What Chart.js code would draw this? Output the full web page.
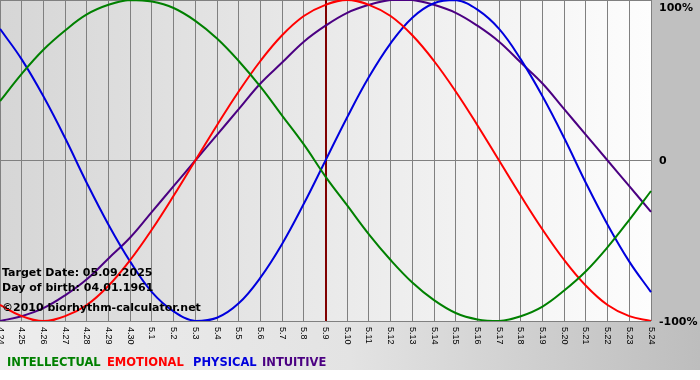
<!DOCTYPE html>
<html>
<head>
<meta charset="utf-8">
<script src="https://cdn.jsdelivr.net/npm/chart.js@4.4.1/dist/chart.umd.min.js"></script>
<style>
  body { margin: 0; background: #fff; }
  canvas { display: block; }
</style>
</head>
<body>
<canvas id="bioChart" width="700" height="380"></canvas>
<script>
const days = ['4.24', '4.25', '4.26', '4.27', '4.28', '4.29', '4.30',
  '5.1', '5.2', '5.3', '5.4', '5.5', '5.6', '5.7', '5.8', '5.9', '5.10', '5.11', '5.12',
  '5.13', '5.14', '5.15', '5.16', '5.17', '5.18', '5.19', '5.20', '5.21', '5.22', '5.23', '5.24'];

// values in percent at each day
const intellectual = [37, 54, 69, 81, 91, 97, 100, 99, 95, 87, 76, 62, 46, 28, 10, -10,
  -28, -46, -62, -76, -87, -95, -99, -100, -97, -91, -81, -69, -54, -37, -19];
const emotional = [-90, -97, -100, -97, -90, -78, -62, -43, -22, 0, 22, 43, 62, 78, 90, 97,
  100, 97, 90, 78, 62, 43, 22, 0, -22, -43, -62, -78, -90, -97, -100];
const physical = [82, 63, 40, 14, -14, -40, -63, -82, -94, -100, -98, -89, -73, -52, -27, 0,
  27, 52, 73, 89, 98, 100, 94, 82, 63, 40, 14, -14, -40, -63, -82];
const intuitive = [-100, -97, -92, -84, -74, -61, -48, -32, -16, 0, 16, 32, 48, 61, 74, 84,
  92, 97, 100, 100, 97, 92, 84, 74, 61, 48, 32, 16, 0, -16, -32];

const yTicks = [100, 0, -100];
const targetDay = '5.9';
const infoLines = ['Target Date: 05.09.2025', 'Day of birth: 04.01.1961', '\u00a92010 biorhythm-calculator.net'];

const boldFont = 'bold 11px "DejaVu Sans"';

const backdrop = {
  id: 'backdrop',
  beforeDraw(chart) {
    const { ctx, chartArea: a, width } = chart;
    ctx.save();
    let g = ctx.createLinearGradient(0, 0, width, 0);
    g.addColorStop(0, '#ededed');
    g.addColorStop(0.5, '#e3e3e3');
    g.addColorStop(1, '#bdbdbd');
    ctx.fillStyle = g;
    ctx.fillRect(0, 0, width, 370);
    ctx.fillStyle = '#c0c0c0';
    ctx.fillRect(a.right, 0, width - a.right, a.bottom);
    g = ctx.createLinearGradient(a.left, 0, a.right, 0);
    g.addColorStop(0, '#d6d6d6');
    g.addColorStop(1, '#fdfdfd');
    ctx.fillStyle = g;
    ctx.fillRect(a.left, a.top, a.right - a.left, a.bottom - a.top);
    ctx.restore();
  },
  beforeDatasetsDraw(chart) {
    const { ctx, chartArea: a, scales } = chart;
    const x = Math.round(scales.x.getPixelForValue(days.indexOf(targetDay)));
    ctx.save();
    ctx.strokeStyle = '#800000';
    ctx.lineWidth = 2;
    ctx.beginPath();
    ctx.moveTo(x, a.top);
    ctx.lineTo(x, a.bottom);
    ctx.stroke();
    ctx.restore();
  }
};

const texts = {
  id: 'texts',
  afterDraw(chart) {
    const { ctx, chartArea: a, scales } = chart;
    ctx.save();
    // day labels, turned to read downwards
    ctx.fillStyle = '#000';
    ctx.font = '9px "Liberation Sans"';
    ctx.textAlign = 'left';
    ctx.textBaseline = 'middle';
    days.forEach((d, i) => {
      const x = scales.x.getPixelForValue(i);
      ctx.save();
      ctx.translate(x, a.bottom + 6);
      ctx.rotate(Math.PI / 2);
      ctx.fillText(d, 0, 0);
      ctx.restore();
    });
    // percent labels on the right
    ctx.font = boldFont;
    yTicks.forEach(v => {
      const y = Math.max(scales.y.getPixelForValue(v), 7);
      ctx.fillText(v + (v === 0 ? '' : '%'), a.right + 8, y + 1);
    });
    // info block
    ctx.textBaseline = 'alphabetic';
    [276, 291, 311].forEach((y, i) => ctx.fillText(infoLines[i], 2, y));
    // legend
    ctx.font = 'bold 11.5px "DejaVu Sans"';
    const legendX = [7, 107, 193, 262];
    chart.data.datasets.forEach((ds, i) => {
      ctx.fillStyle = ds.borderColor;
      ctx.fillText(ds.label, legendX[i], 366);
    });
    ctx.restore();
  }
};

new Chart(document.getElementById('bioChart'), {
  type: 'line',
  data: {
    labels: days,
    datasets: [
      { label: 'INTELLECTUAL', data: intellectual, borderColor: '#008000' },
      { label: 'EMOTIONAL', data: emotional, borderColor: '#ff0000' },
      { label: 'PHYSICAL', data: physical, borderColor: '#0000dd' },
      { label: 'INTUITIVE', data: intuitive, borderColor: '#4b0082' }
    ]
  },
  options: {
    responsive: false,
    devicePixelRatio: 1,
    animation: false,
    layout: { padding: { left: 0, top: 0, right: 49, bottom: 59 } },
    elements: {
      point: { radius: 0 },
      line: { borderWidth: 2, tension: 0.4 }
    },
    plugins: { legend: { display: false }, tooltip: { enabled: false } },
    scales: {
      x: {
        offset: false,
        grid: { color: '#808080', drawTicks: false },
        border: { display: false },
        ticks: { display: false }
      },
      y: {
        min: -100,
        max: 100,
        grid: { color: '#808080', drawTicks: false },
        border: { display: false },
        ticks: { display: false, stepSize: 100 }
      }
    }
  },
  plugins: [backdrop, texts]
});
</script>
</body>
</html>
